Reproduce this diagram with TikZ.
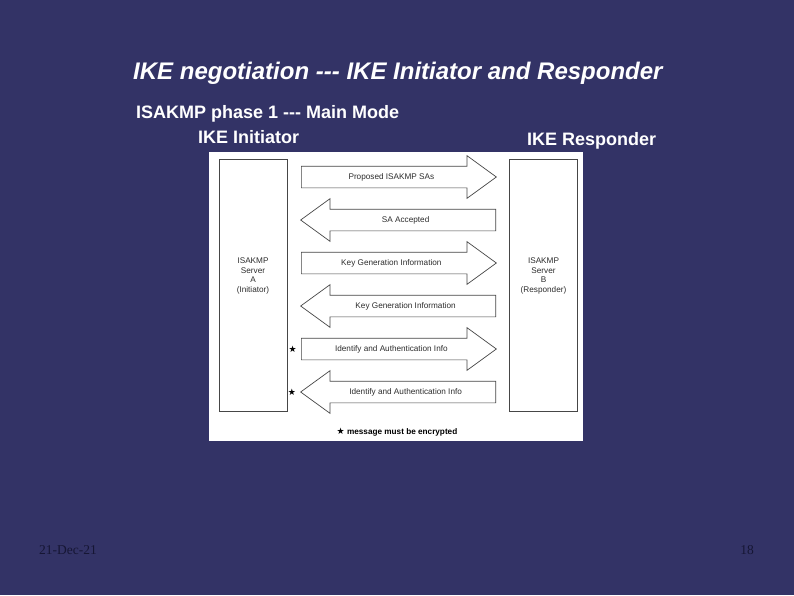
\documentclass[tikz,border=0pt]{standalone}
\usepackage{fontspec}
\setmainfont{Liberation Sans}
\newfontfamily\starfont{DejaVu Sans}
\newfontfamily\footfont{Liberation Serif}
\usetikzlibrary{shapes.arrows, positioning}
\definecolor{slideblue}{RGB}{51, 51, 102}
\definecolor{footdark}{RGB}{22, 22, 52}
\definecolor{figline}{RGB}{70, 70, 70}
\definecolor{figtext}{RGB}{45, 45, 45}

\begin{document}
\begin{tikzpicture}[x=1pt, y=-1pt,
  heading/.style={anchor=west, inner sep=0pt, text=white},
  msgarrow/.style={single arrow, draw=figline, fill=white, line width=0.7pt,
    single arrow head extend=10.5pt, single arrow tip angle=72,
    minimum height=195pt, inner xsep=0pt, inner ysep=6.5pt,
    text height=6pt, text depth=2pt, text=figtext,
    font=\fontsize{8.2}{9}\selectfont},
  toB/.style={msgarrow, anchor=tail},
  toA/.style={msgarrow, shape border rotate=180, anchor=tail},
  server/.style={draw=figline, fill=white, line width=0.7pt,
    minimum width=68pt, minimum height=252pt, inner sep=0pt},
  servertext/.style={align=center, text=figtext, font=\fontsize{8.2}{9.4}\selectfont},
  enc/.style={inner sep=0pt, font=\starfont\fontsize{9}{9}\selectfont}]
  \useasboundingbox (0,0) rectangle (794,595);
  \fill[slideblue] (0,0) rectangle (794,595);

  % headings
  \node[heading, font=\fontsize{24}{28}\selectfont\bfseries\itshape] (title) at (133,73)
    {IKE negotiation -{}-{}- IKE Initiator and Responder};
  \node[heading, font=\fontsize{18}{21}\selectfont\bfseries] (phase) at (136,114)
    {ISAKMP phase 1 -{}-{}- Main Mode};
  \node[heading, font=\fontsize{18}{21}\selectfont\bfseries] (initiator) at (198,137) {IKE Initiator};
  \node[heading, font=\fontsize{18}{21}\selectfont\bfseries] (responder) at (527,141) {IKE Responder};

  % figure
  \fill[white] (209,152) rectangle (583,441);
  \node[server] (srvA) at (253,285) {};
  \node[server] (srvB) at (543.5,285) {};
  \node[servertext] (srvAtext) at (253,276) {ISAKMP\\Server\\A\\(Initiator)};
  \node[servertext] (srvBtext) at (543.5,276) {ISAKMP\\Server\\B\\(Responder)};

  % messages
  \node[toB] (msg1) at (301,177) {Proposed ISAKMP SAs};
  \node[toA] (msg2) at (496,220) {SA Accepted};
  \node[toB] (msg3) at (301,263) {Key Generation Information};
  \node[toA] (msg4) at (496,306) {Key Generation Information};
  \node[toB] (msg5) at (301,349) {Identify and Authentication Info};
  \node[toA] (msg6) at (496,392) {Identify and Authentication Info};
  \node[enc, left=4pt of msg5.tail] (star5) {★};
  \node[enc, left=4pt of msg6.tip] (star6) {★};
  \node[inner sep=0pt, text=black, font=\fontsize{8.2}{9}\selectfont\bfseries] (note) at (397,432)
    {{\starfont\fontsize{9}{9}\selectfont ★}\ message must be encrypted};

  % footer
  \node[anchor=west, inner sep=0pt, text=footdark, font=\footfont\fontsize{13.5}{15}\selectfont] (date) at (39,550) {21-Dec-21};
  \node[anchor=east, inner sep=0pt, text=footdark, font=\footfont\fontsize{13.5}{15}\selectfont] (pageno) at (754,550) {18};
\end{tikzpicture}
\end{document}
